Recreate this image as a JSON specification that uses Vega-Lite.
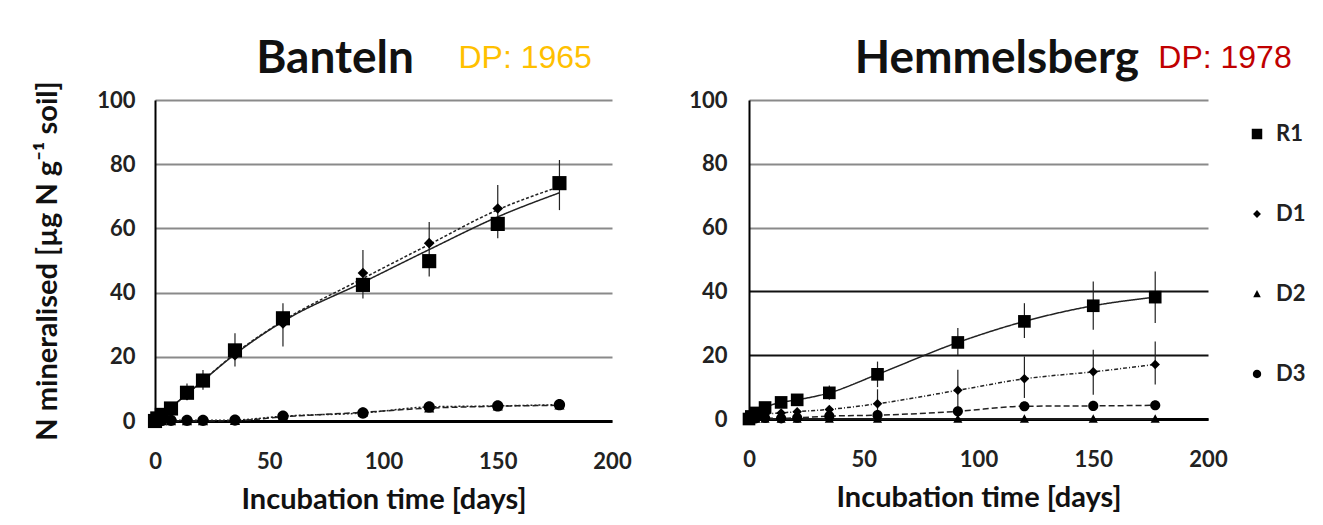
{
  "$schema": "https://vega.github.io/schema/vega-lite/v6.json",
  "background": "white",
  "padding": {"left": 33, "top": 36, "right": 5, "bottom": 5},
  "config": {"font": "Lato", "view": {"stroke": null}, "concat": {"spacing": 56}},
  "resolve": {"scale": {"shape": "independent", "strokeDash": "independent"}, "legend": {"shape": "independent", "strokeDash": "independent"}},
  "datasets": {
    "obs": [
      {"site": "Banteln", "series": "R1", "day": 0, "value": 0, "fit": 0},
      {"site": "Banteln", "series": "R1", "day": 1, "value": 0.8, "fit": 0.6},
      {"site": "Banteln", "series": "R1", "day": 3, "value": 1.9, "fit": 1.8},
      {"site": "Banteln", "series": "R1", "day": 7, "value": 3.9, "fit": 4.2},
      {"site": "Banteln", "series": "R1", "day": 14, "value": 8.8, "fit": 8.4, "lo": 6.5, "hi": 11.7},
      {"site": "Banteln", "series": "R1", "day": 21, "value": 12.6, "fit": 12.6, "lo": 9.7, "hi": 15.9},
      {"site": "Banteln", "series": "R1", "day": 35, "value": 22, "fit": 20.8, "lo": 17, "hi": 27.3},
      {"site": "Banteln", "series": "R1", "day": 56, "value": 32, "fit": 31, "lo": 23.2, "hi": 36.7},
      {"site": "Banteln", "series": "R1", "day": 91, "value": 42.4, "fit": 43.2, "lo": 38.2, "hi": 53.3},
      {"site": "Banteln", "series": "R1", "day": 120, "value": 49.8, "fit": 53.4, "lo": 45, "hi": 62},
      {"site": "Banteln", "series": "R1", "day": 150, "value": 61.4, "fit": 63.6, "lo": 56.9, "hi": 73.5},
      {"site": "Banteln", "series": "R1", "day": 177, "value": 74.1, "fit": 71.1, "lo": 65.7, "hi": 81.3},
      {"site": "Banteln", "series": "D1", "day": 0, "value": 0, "fit": 0},
      {"site": "Banteln", "series": "D1", "day": 1, "value": 0.6, "fit": 0.6},
      {"site": "Banteln", "series": "D1", "day": 3, "value": 1.7, "fit": 1.8},
      {"site": "Banteln", "series": "D1", "day": 7, "value": 3.6, "fit": 4.2},
      {"site": "Banteln", "series": "D1", "day": 14, "value": 8.1, "fit": 8.4},
      {"site": "Banteln", "series": "D1", "day": 21, "value": 12.3, "fit": 12.6},
      {"site": "Banteln", "series": "D1", "day": 35, "value": 20.5, "fit": 21},
      {"site": "Banteln", "series": "D1", "day": 56, "value": 30.4, "fit": 31.2},
      {"site": "Banteln", "series": "D1", "day": 91, "value": 46.1, "fit": 44.4},
      {"site": "Banteln", "series": "D1", "day": 120, "value": 55.4, "fit": 55},
      {"site": "Banteln", "series": "D1", "day": 150, "value": 66.2, "fit": 65.8},
      {"site": "Banteln", "series": "D1", "day": 177, "value": 73.5, "fit": 73},
      {"site": "Banteln", "series": "D2", "day": 0, "value": 0, "fit": 0},
      {"site": "Banteln", "series": "D2", "day": 1, "value": 0, "fit": 0},
      {"site": "Banteln", "series": "D2", "day": 3, "value": 0, "fit": 0},
      {"site": "Banteln", "series": "D2", "day": 7, "value": 0, "fit": 0},
      {"site": "Banteln", "series": "D2", "day": 14, "value": 0, "fit": 0},
      {"site": "Banteln", "series": "D2", "day": 21, "value": 0, "fit": 0},
      {"site": "Banteln", "series": "D2", "day": 35, "value": 0.1, "fit": 0.1},
      {"site": "Banteln", "series": "D2", "day": 56, "value": 1.3, "fit": 1.3},
      {"site": "Banteln", "series": "D2", "day": 91, "value": 2.7, "fit": 2.7, "lo": 1.8, "hi": 3.6},
      {"site": "Banteln", "series": "D2", "day": 120, "value": 4.0, "fit": 4.0, "lo": 3.0, "hi": 5.0},
      {"site": "Banteln", "series": "D2", "day": 150, "value": 4.6, "fit": 4.6, "lo": 3.5, "hi": 5.7},
      {"site": "Banteln", "series": "D2", "day": 177, "value": 4.9, "fit": 4.9, "lo": 3.8, "hi": 6.2},
      {"site": "Banteln", "series": "D3", "day": 0, "value": 0, "fit": 0},
      {"site": "Banteln", "series": "D3", "day": 1, "value": 0.1, "fit": 0.1},
      {"site": "Banteln", "series": "D3", "day": 3, "value": 0.2, "fit": 0.2},
      {"site": "Banteln", "series": "D3", "day": 7, "value": 0.2, "fit": 0.2},
      {"site": "Banteln", "series": "D3", "day": 14, "value": 0.2, "fit": 0.2},
      {"site": "Banteln", "series": "D3", "day": 21, "value": 0.2, "fit": 0.2},
      {"site": "Banteln", "series": "D3", "day": 35, "value": 0.3, "fit": 0.3},
      {"site": "Banteln", "series": "D3", "day": 56, "value": 1.5, "fit": 1.5},
      {"site": "Banteln", "series": "D3", "day": 91, "value": 2.5, "fit": 2.5},
      {"site": "Banteln", "series": "D3", "day": 120, "value": 4.4, "fit": 4.4},
      {"site": "Banteln", "series": "D3", "day": 150, "value": 4.7, "fit": 4.7},
      {"site": "Banteln", "series": "D3", "day": 177, "value": 5.1, "fit": 5.1},
      {"site": "Hemmelsberg", "series": "R1", "day": 0, "value": 0, "fit": 0},
      {"site": "Hemmelsberg", "series": "R1", "day": 1, "value": 0.8, "fit": 0.8},
      {"site": "Hemmelsberg", "series": "R1", "day": 3, "value": 1.9, "fit": 1.9},
      {"site": "Hemmelsberg", "series": "R1", "day": 7, "value": 3.6, "fit": 3.6},
      {"site": "Hemmelsberg", "series": "R1", "day": 14, "value": 5.2, "fit": 5.2},
      {"site": "Hemmelsberg", "series": "R1", "day": 21, "value": 6.0, "fit": 6.0},
      {"site": "Hemmelsberg", "series": "R1", "day": 35, "value": 8.2, "fit": 8.2, "lo": 6, "hi": 10.5},
      {"site": "Hemmelsberg", "series": "R1", "day": 56, "value": 14.0, "fit": 14.0, "lo": 10, "hi": 18},
      {"site": "Hemmelsberg", "series": "R1", "day": 91, "value": 24.0, "fit": 24.0, "lo": 20.1, "hi": 28.5},
      {"site": "Hemmelsberg", "series": "R1", "day": 120, "value": 30.6, "fit": 30.6, "lo": 25.4, "hi": 36.3},
      {"site": "Hemmelsberg", "series": "R1", "day": 150, "value": 35.5, "fit": 35.5, "lo": 28, "hi": 43.1},
      {"site": "Hemmelsberg", "series": "R1", "day": 177, "value": 38.2, "fit": 38.2, "lo": 30.1, "hi": 46.2},
      {"site": "Hemmelsberg", "series": "D1", "day": 0, "value": 0, "fit": 0},
      {"site": "Hemmelsberg", "series": "D1", "day": 1, "value": 0.3, "fit": 0.3},
      {"site": "Hemmelsberg", "series": "D1", "day": 3, "value": 0.8, "fit": 0.8},
      {"site": "Hemmelsberg", "series": "D1", "day": 7, "value": 1.5, "fit": 1.5},
      {"site": "Hemmelsberg", "series": "D1", "day": 14, "value": 1.9, "fit": 1.9},
      {"site": "Hemmelsberg", "series": "D1", "day": 21, "value": 2.3, "fit": 2.3},
      {"site": "Hemmelsberg", "series": "D1", "day": 35, "value": 3.0, "fit": 3.0},
      {"site": "Hemmelsberg", "series": "D1", "day": 56, "value": 4.8, "fit": 4.8, "lo": 0.3, "hi": 9.3},
      {"site": "Hemmelsberg", "series": "D1", "day": 91, "value": 9.0, "fit": 9.0, "lo": 2.9, "hi": 15.4},
      {"site": "Hemmelsberg", "series": "D1", "day": 120, "value": 12.6, "fit": 12.6, "lo": 6.6, "hi": 19.6},
      {"site": "Hemmelsberg", "series": "D1", "day": 150, "value": 14.8, "fit": 14.8, "lo": 7.6, "hi": 21.7},
      {"site": "Hemmelsberg", "series": "D1", "day": 177, "value": 17.1, "fit": 17.1, "lo": 10.8, "hi": 24.3},
      {"site": "Hemmelsberg", "series": "D2", "day": 0, "value": 0, "fit": 0},
      {"site": "Hemmelsberg", "series": "D2", "day": 1, "value": 0, "fit": 0},
      {"site": "Hemmelsberg", "series": "D2", "day": 3, "value": 0, "fit": 0},
      {"site": "Hemmelsberg", "series": "D2", "day": 7, "value": 0, "fit": 0},
      {"site": "Hemmelsberg", "series": "D2", "day": 14, "value": 0, "fit": 0},
      {"site": "Hemmelsberg", "series": "D2", "day": 21, "value": 0, "fit": 0},
      {"site": "Hemmelsberg", "series": "D2", "day": 35, "value": 0, "fit": 0},
      {"site": "Hemmelsberg", "series": "D2", "day": 56, "value": 0, "fit": 0},
      {"site": "Hemmelsberg", "series": "D2", "day": 91, "value": 0, "fit": 0},
      {"site": "Hemmelsberg", "series": "D2", "day": 120, "value": 0, "fit": 0},
      {"site": "Hemmelsberg", "series": "D2", "day": 150, "value": 0, "fit": 0},
      {"site": "Hemmelsberg", "series": "D2", "day": 177, "value": 0, "fit": 0},
      {"site": "Hemmelsberg", "series": "D3", "day": 0, "value": 0, "fit": 0},
      {"site": "Hemmelsberg", "series": "D3", "day": 1, "value": 0.1, "fit": 0.1},
      {"site": "Hemmelsberg", "series": "D3", "day": 3, "value": 0.2, "fit": 0.2},
      {"site": "Hemmelsberg", "series": "D3", "day": 7, "value": 0.3, "fit": 0.3},
      {"site": "Hemmelsberg", "series": "D3", "day": 14, "value": 0.2, "fit": 0.2},
      {"site": "Hemmelsberg", "series": "D3", "day": 21, "value": 0.4, "fit": 0.4},
      {"site": "Hemmelsberg", "series": "D3", "day": 35, "value": 0.9, "fit": 0.9},
      {"site": "Hemmelsberg", "series": "D3", "day": 56, "value": 1.2, "fit": 1.2},
      {"site": "Hemmelsberg", "series": "D3", "day": 91, "value": 2.4, "fit": 2.4, "lo": 1.5, "hi": 3.3},
      {"site": "Hemmelsberg", "series": "D3", "day": 120, "value": 4.0, "fit": 4.0, "lo": 3.0, "hi": 5.0},
      {"site": "Hemmelsberg", "series": "D3", "day": 150, "value": 4.1, "fit": 4.1, "lo": 3.1, "hi": 5.1},
      {"site": "Hemmelsberg", "series": "D3", "day": 177, "value": 4.3, "fit": 4.3, "lo": 3.2, "hi": 5.4}
    ]
  },
  "hconcat": [
    {
      "width": 457,
      "height": 321,
      "layer": [
        {
          "data": {"name": "obs"},
          "transform": [{"filter": "datum.site === 'Banteln'"}],
          "mark": {"type": "line", "color": "#222222", "strokeWidth": 1.5, "interpolate": "monotone"},
          "encoding": {
            "x": {"field": "day", "type": "quantitative", "scale": {"domain": [0, 200], "nice": false},
              "axis": {"title": "Incubation time [days]", "values": [0, 50, 100, 150, 200], "labelFlush": false, "grid": false, "ticks": false, "domainColor": "black", "domainWidth": 3, "labelFontSize": 22, "labelFontWeight": "bold", "labelColor": "#222222", "labelPadding": 30, "titleFontSize": 29, "titleFontWeight": "bold", "titleColor": "#111111", "titlePadding": 13}},
            "y": {"field": "fit", "type": "quantitative", "scale": {"domain": [0, 100], "nice": false},
              "axis": {"title": "N mineralised [µg N g⁻¹ soil]", "values": [0, 20, 40, 60, 80, 100], "labelFlush": false, "grid": true, "gridColor": "#8a8a8a", "gridWidth": 2, "ticks": false, "domainColor": "black", "domainWidth": 2, "labelFontSize": 22, "labelFontWeight": "bold", "labelColor": "#222222", "labelPadding": 20, "titleFontSize": 29, "titleFontWeight": "bold", "titleColor": "#111111", "titlePadding": 34}},
            "detail": {"field": "series"},
            "strokeDash": {"field": "series", "type": "nominal", "scale": {"domain": ["R1", "D1", "D2", "D3"], "range": [[1, 0], [3, 2], [6, 3], [2, 2]]}, "legend": null}
          }
        },
        {
          "data": {"name": "obs"},
          "transform": [{"filter": "datum.site === 'Banteln' && isValid(datum.lo)"}],
          "mark": {"type": "rule", "color": "#222222", "strokeWidth": 1.2},
          "encoding": {
            "x": {"field": "day", "type": "quantitative"},
            "y": {"field": "lo", "type": "quantitative"},
            "y2": {"field": "hi"}
          }
        },
        {
          "data": {"name": "obs"},
          "transform": [{"filter": "datum.site === 'Banteln'"}],
          "mark": {"type": "point", "filled": true, "color": "black", "opacity": 1, "size": 200},
          "encoding": {
            "x": {"field": "day", "type": "quantitative"},
            "y": {"field": "value", "type": "quantitative"},
            "shape": {"field": "series", "type": "nominal", "scale": {"domain": ["R1", "D1", "D2", "D3"], "range": ["square", "M0,-0.75L0.75,0L0,0.75L-0.75,0Z", "M0,-0.75L0.72,0.6L-0.72,0.6Z", "M-0.8,0A0.8,0.8 0 1,0 0.8,0A0.8,0.8 0 1,0 -0.8,0Z"]}, "legend": null}
          }
        },
        {
          "data": {"values": [{}]},
          "mark": {"type": "text", "text": "Banteln", "font": "Lato", "fontWeight": "bold", "fontSize": 46, "color": "#111111", "align": "center", "baseline": "alphabetic", "clip": false},
          "encoding": {
            "x": {"datum": 78.8, "type": "quantitative"},
            "y": {"datum": 108.4, "type": "quantitative"}
          }
        },
        {
          "data": {"values": [{}]},
          "mark": {"type": "text", "text": "DP: 1965", "font": "Liberation Sans", "fontSize": 32, "color": "#FFC000", "align": "center", "baseline": "alphabetic", "clip": false},
          "encoding": {
            "x": {"datum": 162, "type": "quantitative"},
            "y": {"datum": 110, "type": "quantitative"}
          }
        }
      ]
    },
    {
      "width": 459,
      "height": 319,
      "layer": [
        {
          "data": {"name": "obs"},
          "transform": [{"filter": "datum.site === 'Hemmelsberg'"}],
          "mark": {"type": "line", "color": "#222222", "strokeWidth": 1.5, "interpolate": "monotone"},
          "encoding": {
            "x": {"field": "day", "type": "quantitative", "scale": {"domain": [0, 200], "nice": false},
              "axis": {"title": "Incubation time [days]", "values": [0, 50, 100, 150, 200], "labelFlush": false, "grid": false, "ticks": false, "domainColor": "black", "domainWidth": 3, "labelFontSize": 22, "labelFontWeight": "bold", "labelColor": "#222222", "labelPadding": 30, "titleFontSize": 29, "titleFontWeight": "bold", "titleColor": "#111111", "titlePadding": 13}},
            "y": {"field": "fit", "type": "quantitative", "scale": {"domain": [0, 100], "nice": false},
              "axis": {"title": null, "values": [0, 20, 40, 60, 80, 100], "labelFlush": false, "grid": true, "gridColor": {"condition": {"test": "datum.value <= 40", "value": "#111111"}, "value": "#8a8a8a"}, "gridWidth": 2, "ticks": false, "domainColor": "black", "domainWidth": 2, "labelFontSize": 22, "labelFontWeight": "bold", "labelColor": "#222222", "labelPadding": 22}},
            "detail": {"field": "series"},
            "strokeDash": {"field": "series", "type": "nominal", "scale": {"domain": ["D1", "R1", "D2", "D3"], "range": [[4, 2, 1, 2], [1, 0], [1, 0], [6, 3]]}, "legend": null}
          }
        },
        {
          "data": {"name": "obs"},
          "transform": [{"filter": "datum.site === 'Hemmelsberg' && isValid(datum.lo)"}],
          "mark": {"type": "rule", "color": "#222222", "strokeWidth": 1.2},
          "encoding": {
            "x": {"field": "day", "type": "quantitative"},
            "y": {"field": "lo", "type": "quantitative"},
            "y2": {"field": "hi"}
          }
        },
        {
          "data": {"name": "obs"},
          "transform": [{"filter": "datum.site === 'Hemmelsberg'"}],
          "mark": {"type": "point", "filled": true, "color": "black", "opacity": 1, "size": 160},
          "encoding": {
            "x": {"field": "day", "type": "quantitative"},
            "y": {"field": "value", "type": "quantitative"},
            "shape": {"field": "series", "type": "nominal", "scale": {"domain": ["R1", "D1", "D2", "D3"], "range": ["square", "M0,-0.75L0.75,0L0,0.75L-0.75,0Z", "M0,-0.75L0.72,0.6L-0.72,0.6Z", "M-0.8,0A0.8,0.8 0 1,0 0.8,0A0.8,0.8 0 1,0 -0.8,0Z"]},
              "legend": {"title": null, "orient": "none", "legendX": 497, "legendY": 23, "padding": 0, "labelFontSize": 22, "labelFontWeight": "bold", "labelColor": "#222222", "symbolSize": 110, "symbolFillColor": "black", "symbolStrokeColor": "black", "rowPadding": 58, "labelOffset": 8}}
          }
        },
        {
          "data": {"values": [{}]},
          "mark": {"type": "text", "text": "Hemmelsberg", "font": "Lato", "fontWeight": "bold", "fontSize": 46, "color": "#111111", "align": "center", "baseline": "alphabetic", "clip": false},
          "encoding": {
            "x": {"datum": 108, "type": "quantitative"},
            "y": {"datum": 108.4, "type": "quantitative"}
          }
        },
        {
          "data": {"values": [{}]},
          "mark": {"type": "text", "text": "DP: 1978", "font": "Liberation Sans", "fontSize": 32, "color": "#C00000", "align": "center", "baseline": "alphabetic", "clip": false},
          "encoding": {
            "x": {"datum": 207.4, "type": "quantitative"},
            "y": {"datum": 110, "type": "quantitative"}
          }
        }
      ]
    }
  ]
}
